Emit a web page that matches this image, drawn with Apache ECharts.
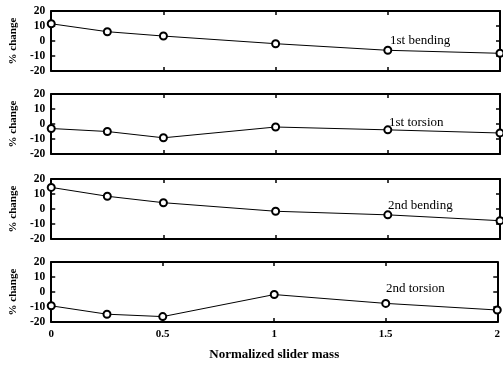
<!DOCTYPE html>
<html>
<head>
<meta charset="utf-8">
<script src="https://cdn.jsdelivr.net/npm/echarts@6/dist/echarts.min.js"></script>
<style>html,body{margin:0;padding:0;background:#fff;}#c{width:503px;height:366px;}</style>
</head>
<body>
<div id="c"></div>
<script>
const massX = [0, 0.25, 0.5, 1, 1.5, 2];
const bending1 = [11.5, 6.2, 3.3, -1.8, -6.2, -8.2];
const torsion1 = [-3, -5, -9.2, -2, -3.9, -6];
const bending2 = [14.4, 8.5, 4.2, -1.5, -3.9, -7.8];
const torsion2 = [-9.2, -14.8, -16.4, -1.7, -7.6, -12];
const seriesList = [bending1, torsion1, bending2, torsion2];
const modeLabels = ['1st bending', '1st torsion', '2nd bending', '2nd torsion'];
const yTickLabels = ['-20', '-10', '0', '10', '20'];
const xTickLabels = ['0', '0.5', '1', '1.5', '2'];
const yAxisTitle = '% change';
const xAxisTitle = 'Normalized slider mass';

const tops = [11, 94, 179, 262];
const H = 60;
const labelPos = [[390, 34], [389, 116], [388, 199], [386, 282]];
const serif = 'Liberation Serif';

const grids = [], xAxes = [], yAxes = [], series = [], graphics = [];
seriesList.forEach((vals, i) => {
  grids.push({left: 48, right: 3, top: tops[i], height: H, show: false});
  const isLast = i === seriesList.length - 1;
  const axLine = {show: true, onZero: false, lineStyle: {color: '#000', width: 2}};
  const tick = {show: true, inside: true, length: 4, lineStyle: {color: '#000', width: 1.5}};
  xAxes.push({
    type: 'value', gridIndex: i, position: 'bottom', min: 0, max: 2, interval: 0.5,
    axisLine: axLine, axisTick: tick, splitLine: {show: false},
    axisLabel: {show: isLast, color: '#000', fontFamily: serif, fontWeight: 'bold', fontSize: 11, margin: 7,
      formatter: v => xTickLabels[Math.round(v / 0.5)] ?? ''},
    name: isLast ? xAxisTitle : '', nameLocation: 'middle', nameGap: 26,
    nameTextStyle: {color: '#000', fontFamily: serif, fontWeight: 'bold', fontSize: 13}
  });
  xAxes.push({
    type: 'value', gridIndex: i, position: 'top', min: 0, max: 2, interval: 0.5,
    axisLine: axLine, axisTick: tick, splitLine: {show: false}, axisLabel: {show: false}
  });
  yAxes.push({
    type: 'value', gridIndex: i, position: 'left', min: -20, max: 20, interval: 10,
    axisLine: axLine, axisTick: tick, splitLine: {show: false},
    axisLabel: {color: '#000', fontFamily: serif, fontWeight: 'bold', fontSize: 11.5, margin: 6,
      formatter: v => yTickLabels[Math.round((v + 20) / 10)] ?? ''},
    name: yAxisTitle, nameLocation: 'middle', nameGap: 30,
    nameTextStyle: {color: '#000', fontFamily: serif, fontWeight: 'bold', fontSize: 11}
  });
  yAxes.push({
    type: 'value', gridIndex: i, position: 'right', min: -20, max: 20, interval: 10,
    axisLine: axLine, axisTick: tick, splitLine: {show: false}, axisLabel: {show: false}
  });
  series.push({
    type: 'line', xAxisIndex: 2 * i, yAxisIndex: 2 * i,
    data: massX.map((x, k) => [x, vals[k]]),
    symbol: 'emptyCircle', symbolSize: 7,
    lineStyle: {color: '#000', width: 1},
    itemStyle: {color: '#000', borderColor: '#000', borderWidth: 1.5},
    animation: false, silent: true
  });
  graphics.push({
    type: 'text', left: labelPos[i][0], top: labelPos[i][1],
    style: {text: modeLabels[i], fill: '#000', font: '13px "Liberation Serif"'}
  });
});

const chart = echarts.init(document.getElementById('c'), null, {renderer: 'canvas'});
chart.setOption({
  backgroundColor: '#fff',
  animation: false,
  grid: grids, xAxis: xAxes, yAxis: yAxes, series: series, graphic: graphics
});
</script>
</body>
</html>
